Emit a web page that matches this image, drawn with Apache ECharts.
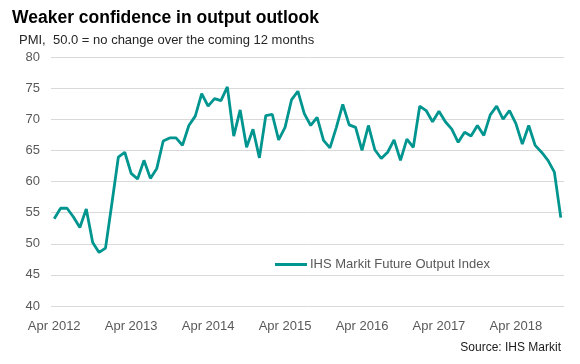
<!DOCTYPE html>
<html>
<head>
<meta charset="utf-8">
<script src="https://cdn.jsdelivr.net/npm/echarts@6/dist/echarts.min.js"></script>
<style>
html,body{margin:0;padding:0;background:#fff;}
#chart{width:580px;height:364px;}
</style>
</head>
<body>
<div id="chart"></div>
<script>
var categories = [
'Apr 2012','May 2012','Jun 2012','Jul 2012','Aug 2012','Sep 2012','Oct 2012','Nov 2012','Dec 2012',
'Jan 2013','Feb 2013','Mar 2013','Apr 2013','May 2013','Jun 2013','Jul 2013','Aug 2013','Sep 2013','Oct 2013','Nov 2013','Dec 2013',
'Jan 2014','Feb 2014','Mar 2014','Apr 2014','May 2014','Jun 2014','Jul 2014','Aug 2014','Sep 2014','Oct 2014','Nov 2014','Dec 2014',
'Jan 2015','Feb 2015','Mar 2015','Apr 2015','May 2015','Jun 2015','Jul 2015','Aug 2015','Sep 2015','Oct 2015','Nov 2015','Dec 2015',
'Jan 2016','Feb 2016','Mar 2016','Apr 2016','May 2016','Jun 2016','Jul 2016','Aug 2016','Sep 2016','Oct 2016','Nov 2016','Dec 2016',
'Jan 2017','Feb 2017','Mar 2017','Apr 2017','May 2017','Jun 2017','Jul 2017','Aug 2017','Sep 2017','Oct 2017','Nov 2017','Dec 2017',
'Jan 2018','Feb 2018','Mar 2018','Apr 2018','May 2018','Jun 2018','Jul 2018','Aug 2018','Sep 2018','Oct 2018','Nov 2018'
];
var futureOutput = [
54.0,55.7,55.7,54.3,52.6,55.6,50.2,48.6,49.3,
56.5,63.9,64.7,61.3,60.4,63.4,60.5,62.1,66.5,67.0,67.0,65.8,
69.0,70.5,74.1,72.1,73.3,73.0,75.2,67.3,71.5,65.5,68.4,63.8,
70.6,70.8,66.7,68.7,73.1,74.5,70.9,69.0,70.3,66.6,65.4,68.7,
72.4,69.1,68.7,65.0,69.0,65.1,63.7,64.7,66.7,63.4,66.8,65.5,
72.1,71.4,69.6,71.3,69.6,68.4,66.3,67.9,67.3,69.0,67.4,70.7,
72.1,70.0,71.4,69.3,66.0,69.0,65.8,64.7,63.4,61.5,54.2
];
var tickLabels = ['Apr 2012','Apr 2013','Apr 2014','Apr 2015','Apr 2016','Apr 2017','Apr 2018'];
var seriesName = 'IHS Markit Future Output Index';
var titleText = 'Weaker confidence in output outlook';
var subtitleText = 'PMI,  50.0 = no change over the coming 12 months';
var sourceText = 'Source: IHS Markit';

var FONT = "'Liberation Sans', Arial, sans-serif";
var chart = echarts.init(document.getElementById('chart'), null, {renderer:'canvas'});
chart.setOption({
  animation: false,
  backgroundColor: '#ffffff',
  title: [
    {text: titleText, left: 7, top: 4,
     textStyle: {fontFamily: FONT, fontSize: 17.5, fontWeight: 'bold', color: '#000000'}},
    {text: subtitleText, left: 14, top: 29,
     textStyle: {fontFamily: FONT, fontSize: 13, fontWeight: 'normal', color: '#262626'}},
    {text: sourceText, right: 14, top: 337,
     textStyle: {fontFamily: FONT, fontSize: 12, fontWeight: 'normal', color: '#1a1a1a'}}
  ],
  legend: {
    data: [seriesName],
    left: 270, top: 253,
    icon: 'rect', itemWidth: 32, itemHeight: 3, itemGap: 10,
    textStyle: {fontFamily: FONT, fontSize: 13, color: '#595959', padding: [0,0,0,-2]}
  },
  grid: {left: 51, right: 16, top: 57, bottom: 58, containLabel: false},
  xAxis: {
    type: 'category',
    data: categories,
    boundaryGap: true,
    axisLine: {show: false},
    axisTick: {show: false},
    axisLabel: {
      fontFamily: FONT, fontSize: 13, color: '#595959', margin: 14,
      interval: function (idx, val) { return tickLabels.indexOf(val) >= 0; }
    },
    splitLine: {show: false}
  },
  yAxis: {
    type: 'value',
    min: 40, max: 80, interval: 5,
    axisLine: {show: false},
    axisTick: {show: false},
    axisLabel: {fontFamily: FONT, fontSize: 13, color: '#595959', margin: 11},
    splitLine: {show: true, lineStyle: {color: '#d9d9d9', width: 1}}
  },
  series: [{
    name: seriesName,
    type: 'line',
    data: futureOutput,
    symbol: 'none',
    smooth: false,
    lineStyle: {color: '#00958f', width: 2.8},
    itemStyle: {color: '#00958f'}
  }]
});
</script>
</body>
</html>
